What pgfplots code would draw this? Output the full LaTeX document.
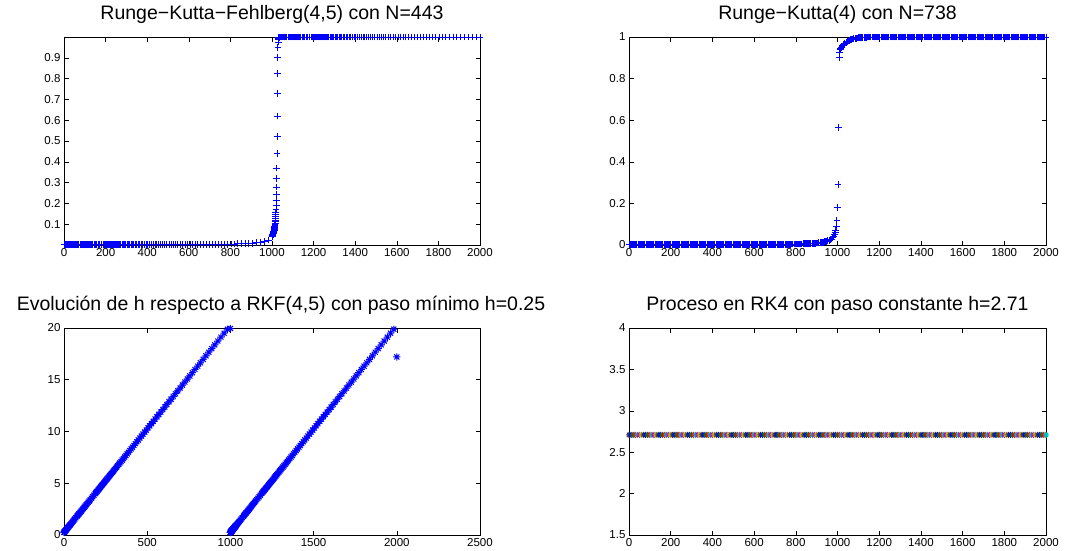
\documentclass[border=0pt]{standalone}
\usepackage{fontspec}
\setmainfont{Liberation Sans}
\usepackage{pgfplots}
\usepackage{pgfplotstable}
\pgfplotsset{compat=1.18}
\definecolor{mb}{rgb}{0,0,1}
\definecolor{mg}{rgb}{0,0.5,0}
\definecolor{mr}{rgb}{1,0,0}
\definecolor{mc}{rgb}{0,0.75,0.75}
\definecolor{mm}{rgb}{0.75,0,0.75}
\definecolor{my}{rgb}{0.75,0.75,0}
\definecolor{mk}{rgb}{0.25,0.25,0.25}
\pgfdeclareplotmark{mstar}{%
  \pgfpathmoveto{\pgfqpoint{-\pgfplotmarksize}{0pt}}\pgfpathlineto{\pgfqpoint{\pgfplotmarksize}{0pt}}%
  \pgfpathmoveto{\pgfqpoint{0pt}{-\pgfplotmarksize}}\pgfpathlineto{\pgfqpoint{0pt}{\pgfplotmarksize}}%
  \pgfpathmoveto{\pgfqpoint{-.7\pgfplotmarksize}{-.7\pgfplotmarksize}}\pgfpathlineto{\pgfqpoint{.7\pgfplotmarksize}{.7\pgfplotmarksize}}%
  \pgfpathmoveto{\pgfqpoint{-.7\pgfplotmarksize}{.7\pgfplotmarksize}}\pgfpathlineto{\pgfqpoint{.7\pgfplotmarksize}{-.7\pgfplotmarksize}}%
  \pgfusepathqstroke}
\pgfdeclareplotmark{mplus}{%
  \pgfpathmoveto{\pgfqpoint{-\pgfplotmarksize}{0pt}}\pgfpathlineto{\pgfqpoint{\pgfplotmarksize}{0pt}}%
  \pgfpathmoveto{\pgfqpoint{0pt}{-\pgfplotmarksize}}\pgfpathlineto{\pgfqpoint{0pt}{\pgfplotmarksize}}%
  \pgfusepathqstroke}
\pgfplotsset{
  mlab/.style={
    scale only axis, anchor=south west, clip=false,
    tick align=inside, major tick length=4.5pt,
    tick style={black, line width=0.6pt},
    axis line style={black, line width=0.8pt},
    scaled ticks=false,
    /pgf/number format/1000 sep={},
    /pgf/number format/assume math mode=true,
    tick label style={font=\fontsize{11.5}{13}\selectfont, text=black},
    title style={font=\fontsize{19.5}{23}\selectfont, at={(0.5,1)}, anchor=base, yshift=11.5pt},
  },
  bplus/.style={only marks, mark=mplus, mark size=3.4pt, draw=mb, color=mb, line width=0.9pt, mark options={draw=mb, color=mb}},
}
\pgfplotstableread{
t y h
0 0.0010 0.25
1.03 0.0010 0.271
2.15 0.0010 0.293
3.35 0.0010 0.317
4.66 0.0010 0.343
6.07 0.0010 0.371
7.61 0.0010 0.402
9.26 0.0010 0.435
11.06 0.0010 0.471
13.0 0.0010 0.51
15.1 0.0010 0.552
17.38 0.0010 0.598
19.84 0.0010 0.647
22.5 0.0010 0.7
25.39 0.0010 0.758
28.51 0.0010 0.82
31.89 0.0010 0.888
35.55 0.0010 0.961
39.51 0.0010 1.04
43.8 0.0010 1.126
48.44 0.0010 1.219
53.47 0.0010 1.319
58.9 0.0010 1.428
64.79 0.0010 1.546
71.16 0.0011 1.673
78.06 0.0011 1.811
81.72 0.0011 1.884
85.52 0.0011 1.96
89.48 0.0011 2.04
93.6 0.0011 2.122
97.89 0.0011 2.208
102.35 0.0011 2.297
106.99 0.0011 2.39
111.82 0.0011 2.486
116.84 0.0011 2.587
122.07 0.0011 2.691
127.5 0.0011 2.8
133.16 0.0011 2.913
139.04 0.0011 3.031
145.16 0.0011 3.153
151.53 0.0011 3.281
158.16 0.0011 3.413
165.06 0.0011 3.551
172.23 0.0012 3.695
179.69 0.0012 3.844
187.46 0.0012 3.999
191.45 0.0012 4.079
195.53 0.0012 4.161
199.69 0.0012 4.244
203.94 0.0012 4.329
208.27 0.0012 4.415
212.68 0.0012 4.504
217.19 0.0012 4.594
221.78 0.0012 4.686
226.47 0.0012 4.78
231.25 0.0013 4.875
236.12 0.0013 4.973
241.09 0.0013 5.072
246.17 0.0013 5.173
251.34 0.0013 5.277
256.61 0.0013 5.382
262.0 0.0013 5.49
267.49 0.0013 5.6
273.09 0.0013 5.712
278.8 0.0013 5.826
284.62 0.0014 5.942
290.57 0.0014 6.061
296.63 0.0014 6.183
302.81 0.0014 6.306
309.12 0.0014 6.432
315.55 0.0014 6.561
322.11 0.0014 6.692
328.8 0.0014 6.826
335.63 0.0015 6.963
342.59 0.0015 7.102
349.69 0.0015 7.244
356.93 0.0015 7.389
364.32 0.0015 7.536
371.86 0.0015 7.687
379.55 0.0015 7.841
387.39 0.0016 7.998
395.38 0.0016 8.158
403.54 0.0016 8.321
411.86 0.0016 8.487
420.35 0.0017 8.657
429.01 0.0017 8.83
437.84 0.0017 9.007
446.84 0.0017 9.187
456.03 0.0018 9.371
465.4 0.0018 9.558
474.96 0.0018 9.749
484.71 0.0019 9.944
494.65 0.0019 10.143
504.79 0.0019 10.346
515.14 0.0020 10.553
525.69 0.0020 10.764
536.45 0.0021 10.979
547.43 0.0021 11.199
558.63 0.0022 11.423
570.06 0.0022 11.651
581.71 0.0023 11.884
593.59 0.0023 12.122
605.71 0.0024 12.364
618.07 0.0025 12.611
630.69 0.0026 12.864
643.55 0.0026 13.121
656.67 0.0027 13.383
670.05 0.0029 13.651
683.7 0.0030 13.924
697.63 0.0031 14.203
711.83 0.0032 14.487
726.31 0.0034 14.776
741.09 0.0036 15.072
756.16 0.0038 15.373
771.53 0.0040 15.681
787.21 0.0043 15.994
803.21 0.0046 16.314
819.52 0.0050 16.64
836.16 0.0054 16.973
853.13 0.0059 17.313
870.45 0.0066 17.659
888.1 0.0075 18.012
906.12 0.0086 18.372
924.49 0.0102 18.74
943.23 0.0126 19.115
962.34 0.0166 19.497
981.83 0.0242 19.887
1000.0 0.0420 19.95
1000.0 0.0424 0.25
1000.25 0.0428 0.255
1000.51 0.0432 0.26
1000.77 0.0437 0.265
1001.03 0.0441 0.271
1001.3 0.0446 0.276
1001.58 0.0451 0.282
1001.86 0.0457 0.287
1002.15 0.0463 0.293
1002.44 0.0469 0.299
1002.74 0.0476 0.305
1003.04 0.0482 0.311
1003.35 0.0489 0.317
1003.67 0.0496 0.323
1003.99 0.0503 0.33
1004.32 0.0513 0.336
1004.66 0.0522 0.343
1005.0 0.0532 0.35
1005.35 0.0542 0.357
1005.71 0.0552 0.364
1006.07 0.0563 0.371
1006.45 0.0573 0.379
1006.83 0.0584 0.386
1007.21 0.0595 0.394
1007.61 0.0609 0.402
1008.01 0.0624 0.41
1008.42 0.064 0.418
1008.84 0.0657 0.427
1009.26 0.0673 0.435
1009.7 0.0691 0.444
1010.14 0.071 0.453
1010.6 0.0734 0.462
1011.06 0.0758 0.471
1011.53 0.0782 0.481
1012.01 0.0809 0.49
1012.5 0.0842 0.5
1013.0 0.0875 0.51
1013.51 0.0912 0.52
1014.03 0.0953 0.531
1014.56 0.1 0.541
1015.1 0.106 0.552
1015.65 0.112 0.563
1016.22 0.119 0.574
1016.79 0.127 0.586
1017.38 0.136 0.598
1017.97 0.146 0.609
1018.58 0.158 0.622
1019.2 0.172 0.634
1019.84 0.19 0.647
1020.49 0.214 0.66
1021.15 0.245 0.673
1021.82 0.279 0.686
1022.5 0.321 0.7
1023.2 0.37 0.714
1023.92 0.439 0.728
1024.65 0.521 0.743
1025.39 0.62 0.758
1026.15 0.729 0.773
1026.92 0.826 0.788
1027.71 0.902 0.804
1028.51 0.95 0.82
1029.33 0.976 0.837
1030.17 0.989 0.853
1031.02 0.995 0.87
1031.89 0.998 0.888
1033.69 0.999 0.924
1035.55 1 0.961
1039.51 1 1.04
1043.8 1 1.126
1048.44 1 1.219
1053.47 1 1.319
1058.9 1 1.428
1064.79 1 1.546
1071.16 1 1.673
1078.06 1 1.811
1081.72 1 1.884
1085.52 1 1.96
1089.48 1 2.04
1093.6 1 2.122
1097.89 1 2.208
1102.35 1 2.297
1106.99 1 2.39
1111.82 1 2.486
1116.84 1 2.587
1122.07 1 2.691
1127.5 1 2.8
1133.16 1 2.913
1139.04 1 3.031
1145.16 1 3.153
1151.53 1 3.281
1158.16 1 3.413
1165.06 1 3.551
1172.23 1 3.695
1179.69 1 3.844
1187.46 1 3.999
1191.45 1 4.079
1195.53 1 4.161
1199.69 1 4.244
1203.94 1 4.329
1208.27 1 4.415
1212.68 1 4.504
1217.19 1 4.594
1221.78 1 4.686
1226.47 1 4.78
1231.25 1 4.875
1236.12 1 4.973
1241.09 1 5.072
1246.17 1 5.173
1251.34 1 5.277
1256.61 1 5.382
1262.0 1 5.49
1267.49 1 5.6
1273.09 1 5.712
1278.8 1 5.826
1284.62 1 5.942
1290.57 1 6.061
1296.63 1 6.183
1302.81 1 6.306
1309.12 1 6.432
1315.55 1 6.561
1322.11 1 6.692
1328.8 1 6.826
1335.63 1 6.963
1342.59 1 7.102
1349.69 1 7.244
1356.93 1 7.389
1364.32 1 7.536
1371.86 1 7.687
1379.55 1 7.841
1387.39 1 7.998
1395.38 1 8.158
1403.54 1 8.321
1411.86 1 8.487
1420.35 1 8.657
1429.01 1 8.83
1437.84 1 9.007
1446.84 1 9.187
1456.03 1 9.371
1465.4 1 9.558
1474.96 1 9.749
1484.71 1 9.944
1494.65 1 10.143
1504.79 1 10.346
1515.14 1 10.553
1525.69 1 10.764
1536.45 1 10.979
1547.43 1 11.199
1558.63 1 11.423
1570.06 1 11.651
1581.71 1 11.884
1593.59 1 12.122
1605.71 1 12.364
1618.07 1 12.611
1630.69 1 12.864
1643.55 1 13.121
1656.67 1 13.383
1670.05 1 13.651
1683.7 1 13.924
1697.63 1 14.203
1711.83 1 14.487
1726.31 1 14.776
1741.09 1 15.072
1756.16 1 15.373
1771.53 1 15.681
1787.21 1 15.994
1803.21 1 16.314
1819.52 1 16.64
1836.16 1 16.973
1853.13 1 17.313
1870.45 1 17.659
1888.1 1 18.012
1906.12 1 18.372
1924.49 1 18.74
1943.23 1 19.115
1962.34 1 19.497
1981.83 1 19.887
2000 1 17.2
}\rkf
\begin{document}
\begin{tikzpicture}
\path[use as bounding box] (0pt,0pt) rectangle (1079pt,-551pt);
% top left
\begin{axis}[mlab, at={(64pt,-245pt)}, width=416pt, height=208pt,
  xmin=0, xmax=2000, ymin=0, ymax=1,
  xtick={0,200,400,600,800,1000,1200,1400,1600,1800,2000},
  ytick={0.1,0.2,0.3,0.4,0.5,0.6,0.7,0.8,0.9},
  title={Runge−Kutta−Fehlberg(4,5) con N=443}]
\addplot[bplus] table[x=t,y=y]{\rkf};
\end{axis}
% top right
\begin{axis}[mlab, at={(629pt,-245pt)}, width=417pt, height=208pt,
  xmin=0, xmax=2000, ymin=0, ymax=1,
  xtick={0,200,400,600,800,1000,1200,1400,1600,1800,2000},
  ytick={0,0.2,0.4,0.6,0.8,1},
  title={Runge−Kutta(4) con N=738}]
\addplot[bplus] coordinates {
(0,0.001)(5.42,0.001)(10.84,0.001)(16.26,0.001)(21.68,0.001)(27.1,0.001)(32.52,0.001)(37.94,0.001)(43.36,0.001)(48.78,0.001)
(54.2,0.001)(59.62,0.001)(65.04,0.001)(70.46,0.001)(75.88,0.001)(81.3,0.001)(86.72,0.001)(92.14,0.001)(97.56,0.001)(102.98,0.001)
(108.4,0.001)(113.82,0.001)(119.24,0.001)(124.66,0.001)(130.08,0.001)(135.5,0.001)(140.92,0.001)(146.34,0.001)(151.76,0.001)(157.18,0.001)
(162.6,0.001)(168.02,0.001)(173.44,0.001)(178.86,0.001)(184.28,0.001)(189.7,0.001)(195.12,0.001)(200.54,0.0014)(205.96,0.0014)(211.38,0.0014)
(216.8,0.0014)(222.22,0.0014)(227.64,0.0014)(233.06,0.0014)(238.48,0.0014)(243.9,0.0014)(249.32,0.0014)(254.74,0.0014)(260.16,0.0014)(265.58,0.0014)
(271,0.0014)(276.42,0.0014)(281.84,0.0014)(287.26,0.0014)(292.68,0.0014)(298.1,0.0014)(303.52,0.0014)(308.94,0.0014)(314.36,0.0014)(319.78,0.0014)
(325.2,0.0014)(330.62,0.0014)(336.04,0.0014)(341.46,0.0014)(346.88,0.0014)(352.3,0.0014)(357.72,0.0014)(363.14,0.0014)(368.56,0.0014)(373.98,0.0014)
(379.4,0.0014)(384.82,0.0014)(390.24,0.0014)(395.66,0.0014)(401.08,0.0014)(406.5,0.0014)(411.92,0.0014)(417.34,0.0014)(422.76,0.0014)(428.18,0.0014)
(433.6,0.0014)(439.02,0.0014)(444.44,0.0014)(449.86,0.0019)(455.28,0.0019)(460.7,0.0019)(466.12,0.0019)(471.54,0.0019)(476.96,0.0019)(482.38,0.0019)
(487.8,0.0019)(493.22,0.0019)(498.64,0.0019)(504.06,0.0019)(509.48,0.0019)(514.9,0.0019)(520.32,0.0019)(525.74,0.0019)(531.16,0.0019)(536.58,0.0019)
(542,0.0019)(547.42,0.0019)(552.84,0.0024)(558.26,0.0024)(563.68,0.0024)(569.1,0.0024)(574.52,0.0024)(579.94,0.0024)(585.36,0.0024)(590.78,0.0024)
(596.2,0.0024)(601.62,0.0024)(607.04,0.0024)(612.46,0.0024)(617.88,0.0024)(623.3,0.0024)(628.72,0.0024)(634.14,0.0024)(639.56,0.0024)(644.98,0.0024)
(650.4,0.003)(655.82,0.003)(661.24,0.003)(666.66,0.003)(672.08,0.003)(677.5,0.003)(682.92,0.003)(688.34,0.003)(693.76,0.003)(699.18,0.003)
(704.6,0.003)(710.02,0.003)(715.44,0.003)(720.86,0.0037)(726.28,0.0037)(731.7,0.0037)(737.12,0.0037)(742.54,0.0037)(747.96,0.0037)(753.38,0.0037)
(758.8,0.0037)(764.22,0.0037)(769.64,0.0037)(775.06,0.0037)(780.48,0.0047)(785.9,0.0047)(791.32,0.0047)(796.74,0.0047)(802.16,0.0047)(807.58,0.0047)
(813,0.0047)(818.42,0.0047)(823.84,0.0047)(829.26,0.0047)(834.68,0.006)(840.1,0.006)(845.52,0.006)(850.94,0.006)(856.36,0.006)(861.78,0.0071)
(867.2,0.0073)(872.62,0.0076)(878.04,0.008)(883.46,0.0083)(888.88,0.0087)(894.3,0.0091)(899.72,0.0096)(905.14,0.0101)(910.56,0.0107)(915.98,0.0114)
(921.4,0.0121)(926.82,0.013)(932.24,0.0139)(937.66,0.0151)(943.08,0.0164)(948.5,0.0179)(953.92,0.0198)(959.34,0.0221)(964.76,0.0251)(970.18,0.029)
(975.6,0.0341)(981.02,0.0415)(986.44,0.053)(989.15,0.061)(991.86,0.072)(994.57,0.088)(997.28,0.12)(999.99,0.18)(1002.7,0.29)(1005.41,0.565)
(1008.12,0.9)(1010.83,0.925)(1013.54,0.94)(1016.25,0.945)(1018.96,0.949)(1021.67,0.953)(1024.38,0.957)(1027.09,0.96)(1029.8,0.964)
(1035.22,0.969)(1040.64,0.974)(1046.06,0.978)(1051.48,0.981)(1056.9,0.984)(1062.32,0.987)(1067.74,0.989)(1073.16,0.99)(1078.58,0.992)(1084,0.993)
(1089.42,0.994)(1094.84,0.995)(1100.26,0.996)(1105.68,0.997)(1111.1,0.997)(1116.52,0.998)(1121.94,0.998)(1127.36,0.998)(1132.78,0.999)(1138.2,0.999)
(1143.62,1)(1149.04,1)(1154.46,1)(1159.88,1)(1165.3,1)(1170.72,1)(1176.14,1)(1181.56,1)(1186.98,1)
(1192.4,1)(1197.82,1)(1203.24,1)(1208.66,1)(1214.08,1)(1219.5,1)(1224.92,1)(1230.34,1)(1235.76,1)(1241.18,1)
(1246.6,1)(1252.02,1)(1257.44,1)(1262.86,1)(1268.28,1)(1273.7,1)(1279.12,1)(1284.54,1)(1289.96,1)(1295.38,1)
(1300.8,1)(1306.22,1)(1311.64,1)(1317.06,1)(1322.48,1)(1327.9,1)(1333.32,1)(1338.74,1)(1344.16,1)(1349.58,1)
(1355,1)(1360.42,1)(1365.84,1)(1371.26,1)(1376.68,1)(1382.1,1)(1387.52,1)(1392.94,1)(1398.36,1)(1403.78,1)
(1409.2,1)(1414.62,1)(1420.04,1)(1425.46,1)(1430.88,1)(1436.3,1)(1441.72,1)(1447.14,1)(1452.56,1)(1457.98,1)
(1463.4,1)(1468.82,1)(1474.24,1)(1479.66,1)(1485.08,1)(1490.5,1)(1495.92,1)(1501.34,1)(1506.76,1)(1512.18,1)
(1517.6,1)(1523.02,1)(1528.44,1)(1533.86,1)(1539.28,1)(1544.7,1)(1550.12,1)(1555.54,1)(1560.96,1)(1566.38,1)
(1571.8,1)(1577.22,1)(1582.64,1)(1588.06,1)(1593.48,1)(1598.9,1)(1604.32,1)(1609.74,1)(1615.16,1)(1620.58,1)
(1626,1)(1631.42,1)(1636.84,1)(1642.26,1)(1647.68,1)(1653.1,1)(1658.52,1)(1663.94,1)(1669.36,1)(1674.78,1)
(1680.2,1)(1685.62,1)(1691.04,1)(1696.46,1)(1701.88,1)(1707.3,1)(1712.72,1)(1718.14,1)(1723.56,1)(1728.98,1)
(1734.4,1)(1739.82,1)(1745.24,1)(1750.66,1)(1756.08,1)(1761.5,1)(1766.92,1)(1772.34,1)(1777.76,1)(1783.18,1)
(1788.6,1)(1794.02,1)(1799.44,1)(1804.86,1)(1810.28,1)(1815.7,1)(1821.12,1)(1826.54,1)(1831.96,1)(1837.38,1)
(1842.8,1)(1848.22,1)(1853.64,1)(1859.06,1)(1864.48,1)(1869.9,1)(1875.32,1)(1880.74,1)(1886.16,1)(1891.58,1)
(1897,1)(1902.42,1)(1907.84,1)(1913.26,1)(1918.68,1)(1924.1,1)(1929.52,1)(1934.94,1)(1940.36,1)(1945.78,1)
(1951.2,1)(1956.62,1)(1962.04,1)(1967.46,1)(1972.88,1)(1978.3,1)(1983.72,1)(1989.14,1)(1994.56,1)(1999.98,1)
};
\end{axis}
% bottom left
\begin{axis}[mlab, at={(64pt,-535pt)}, width=416pt, height=207pt,
  xmin=0, xmax=2500, ymin=0, ymax=20,
  xtick={0,500,1000,1500,2000,2500},
  ytick={0,5,10,15,20},
  title style={xshift=9pt},
  title={Evolución de h respecto a RKF(4,5) con paso mínimo h=0.25}]
\addplot[only marks, mark=mstar, mark size=3.6pt, draw=mb, color=mb, line width=1pt, mark options={draw=mb}] table[x=t,y=h]{\rkf};
\end{axis}
% bottom right
\begin{axis}[mlab, at={(629pt,-535pt)}, width=417pt, height=207pt,
  xmin=0, xmax=2000, ymin=1.5, ymax=4,
  xtick={0,200,400,600,800,1000,1200,1400,1600,1800,2000},
  ytick={1.5,2,2.5,3,3.5,4},
  title={Proceso en RK4 con paso constante h=2.71}]
\addplot[scatter, only marks, scatter src=explicit symbolic, mark=mstar, mark size=3pt, line width=1.1pt,
  scatter/classes={b={mark=mstar,draw=mb}, g={mark=mstar,draw=mg}, r={mark=mstar,draw=mr}, c={mark=mstar,draw=mc}, m={mark=mstar,draw=mm}, y={mark=mstar,draw=my}, k={mark=mstar,draw=mk}}]
coordinates {
(0,2.71)[k](10,2.71)[b](20,2.71)[g](30,2.71)[r](40,2.71)[c](50,2.71)[m](60,2.71)[y]
(70,2.71)[k](80,2.71)[b](90,2.71)[g](100,2.71)[r](110,2.71)[c](120,2.71)[m](130,2.71)[y]
(140,2.71)[k](150,2.71)[b](160,2.71)[g](170,2.71)[r](180,2.71)[c](190,2.71)[m](200,2.71)[y]
(210,2.71)[k](220,2.71)[b](230,2.71)[g](240,2.71)[r](250,2.71)[c](260,2.71)[m](270,2.71)[y]
(280,2.71)[k](290,2.71)[b](300,2.71)[g](310,2.71)[r](320,2.71)[c](330,2.71)[m](340,2.71)[y]
(350,2.71)[k](360,2.71)[b](370,2.71)[g](380,2.71)[r](390,2.71)[c](400,2.71)[m](410,2.71)[y]
(420,2.71)[k](430,2.71)[b](440,2.71)[g](450,2.71)[r](460,2.71)[c](470,2.71)[m](480,2.71)[y]
(490,2.71)[k](500,2.71)[b](510,2.71)[g](520,2.71)[r](530,2.71)[c](540,2.71)[m](550,2.71)[y]
(560,2.71)[k](570,2.71)[b](580,2.71)[g](590,2.71)[r](600,2.71)[c](610,2.71)[m](620,2.71)[y]
(630,2.71)[k](640,2.71)[b](650,2.71)[g](660,2.71)[r](670,2.71)[c](680,2.71)[m](690,2.71)[y]
(700,2.71)[k](710,2.71)[b](720,2.71)[g](730,2.71)[r](740,2.71)[c](750,2.71)[m](760,2.71)[y]
(770,2.71)[k](780,2.71)[b](790,2.71)[g](800,2.71)[r](810,2.71)[c](820,2.71)[m](830,2.71)[y]
(840,2.71)[k](850,2.71)[b](860,2.71)[g](870,2.71)[r](880,2.71)[c](890,2.71)[m](900,2.71)[y]
(910,2.71)[k](920,2.71)[b](930,2.71)[g](940,2.71)[r](950,2.71)[c](960,2.71)[m](970,2.71)[y]
(980,2.71)[k](990,2.71)[b](1000,2.71)[g](1010,2.71)[r](1020,2.71)[c](1030,2.71)[m](1040,2.71)[y]
(1050,2.71)[k](1060,2.71)[b](1070,2.71)[g](1080,2.71)[r](1090,2.71)[c](1100,2.71)[m](1110,2.71)[y]
(1120,2.71)[k](1130,2.71)[b](1140,2.71)[g](1150,2.71)[r](1160,2.71)[c](1170,2.71)[m](1180,2.71)[y]
(1190,2.71)[k](1200,2.71)[b](1210,2.71)[g](1220,2.71)[r](1230,2.71)[c](1240,2.71)[m](1250,2.71)[y]
(1260,2.71)[k](1270,2.71)[b](1280,2.71)[g](1290,2.71)[r](1300,2.71)[c](1310,2.71)[m](1320,2.71)[y]
(1330,2.71)[k](1340,2.71)[b](1350,2.71)[g](1360,2.71)[r](1370,2.71)[c](1380,2.71)[m](1390,2.71)[y]
(1400,2.71)[k](1410,2.71)[b](1420,2.71)[g](1430,2.71)[r](1440,2.71)[c](1450,2.71)[m](1460,2.71)[y]
(1470,2.71)[k](1480,2.71)[b](1490,2.71)[g](1500,2.71)[r](1510,2.71)[c](1520,2.71)[m](1530,2.71)[y]
(1540,2.71)[k](1550,2.71)[b](1560,2.71)[g](1570,2.71)[r](1580,2.71)[c](1590,2.71)[m](1600,2.71)[y]
(1610,2.71)[k](1620,2.71)[b](1630,2.71)[g](1640,2.71)[r](1650,2.71)[c](1660,2.71)[m](1670,2.71)[y]
(1680,2.71)[k](1690,2.71)[b](1700,2.71)[g](1710,2.71)[r](1720,2.71)[c](1730,2.71)[m](1740,2.71)[y]
(1750,2.71)[k](1760,2.71)[b](1770,2.71)[g](1780,2.71)[r](1790,2.71)[c](1800,2.71)[m](1810,2.71)[y]
(1820,2.71)[k](1830,2.71)[b](1840,2.71)[g](1850,2.71)[r](1860,2.71)[c](1870,2.71)[m](1880,2.71)[y]
(1890,2.71)[k](1900,2.71)[b](1910,2.71)[g](1920,2.71)[r](1930,2.71)[c](1940,2.71)[m](1950,2.71)[y]
(1960,2.71)[k](1970,2.71)[b](1980,2.71)[g](1990,2.71)[r](2000,2.71)[c]
};
\end{axis}
\end{tikzpicture}
\end{document}
